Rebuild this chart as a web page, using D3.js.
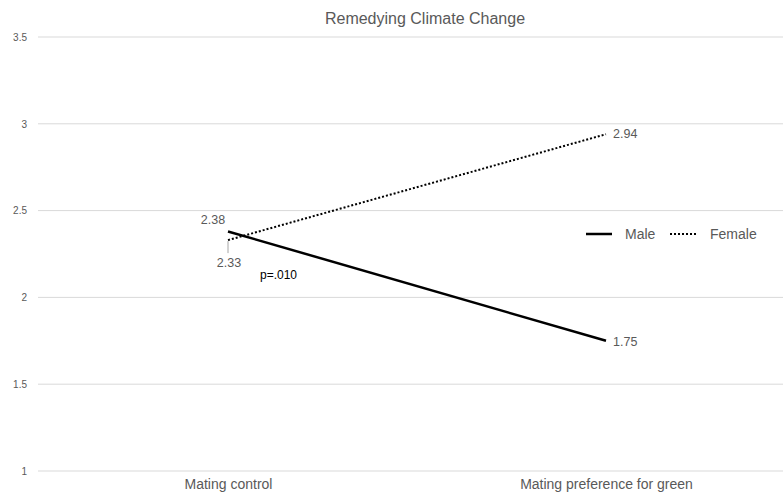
<!DOCTYPE html>
<html>
<head>
<meta charset="utf-8">
<script src="https://cdn.jsdelivr.net/npm/d3@7"></script>
<style>
  body { margin: 0; background: #fff; }
  svg { font-family: "Liberation Sans", Arial, sans-serif; }
</style>
</head>
<body>
<svg id="drawing_region"></svg>
<script>
// chart data
const categories = ["Mating control", "Mating preference for green"];
const maleValues = [2.38, 1.75];
const femaleValues = [2.33, 2.94];
const yTicks = [1, 1.5, 2, 2.5, 3, 3.5];
const seriesNames = ["Male", "Female"];
const title = "Remedying Climate Change";
const pNote = "p=.010";

const width = 783, height = 499;
const svg = d3.select('#drawing_region')
    .attr('width', width)
    .attr('height', height);

const xscale = d3.scalePoint()
    .domain(categories)
    .range([39, 795])
    .padding(0.5);

const yscale = d3.scaleLinear()
    .domain([1, 3.5])
    .range([471, 37]);

// gridlines
svg.append('g')
    .selectAll('line')
    .data(yTicks)
    .join('line')
    .attr('x1', 38)
    .attr('x2', 783)
    .attr('y1', d => yscale(d))
    .attr('y2', d => yscale(d))
    .attr('stroke', '#d9d9d9')
    .attr('stroke-width', 1);

// y axis labels
const yaxis = d3.axisLeft(yscale)
    .tickValues(yTicks)
    .tickFormat(d => d)
    .tickSize(0)
    .tickPadding(0);
const yg = svg.append('g')
    .attr('transform', 'translate(27,0)')
    .call(yaxis);
yg.select('.domain').remove();
yg.selectAll('text')
    .attr('fill', '#595959')
    .attr('font-size', 10)
    .attr('font-family', '"Liberation Sans", Arial, sans-serif');

// x axis labels
const xaxis = d3.axisBottom(xscale).tickSize(0).tickPadding(0);
const xg = svg.append('g')
    .attr('transform', 'translate(0,479)')
    .call(xaxis);
xg.select('.domain').remove();
xg.selectAll('text')
    .attr('fill', '#595959')
    .attr('font-size', 14)
    .attr('font-family', '"Liberation Sans", Arial, sans-serif');

// title
svg.append('text')
    .attr('x', 425)
    .attr('y', 24)
    .attr('text-anchor', 'middle')
    .attr('fill', '#595959')
    .attr('font-size', 16)
    .text(title);

const line = d3.line()
    .x((d, i) => xscale(categories[i]))
    .y(d => yscale(d));

// female (dotted)
svg.append('path')
    .attr('d', line(femaleValues))
    .attr('fill', 'none')
    .attr('stroke', '#000')
    .attr('stroke-width', 2)
    .attr('stroke-dasharray', '2,2');

// male (solid)
svg.append('path')
    .attr('d', line(maleValues))
    .attr('fill', 'none')
    .attr('stroke', '#000')
    .attr('stroke-width', 2.5);

// value labels
const labelStyle = sel => sel
    .attr('fill', '#595959')
    .attr('font-size', 12.5);

svg.append('text')
    .attr('x', xscale(categories[0]) - 15)
    .attr('y', yscale(maleValues[0]) - 7)
    .attr('text-anchor', 'middle')
    .call(labelStyle)
    .text(maleValues[0].toFixed(2));

svg.append('line')
    .attr('x1', xscale(categories[0]))
    .attr('x2', xscale(categories[0]))
    .attr('y1', yscale(femaleValues[0]) + 1)
    .attr('y2', yscale(femaleValues[0]) + 13)
    .attr('stroke', '#a6a6a6')
    .attr('stroke-width', 1);

svg.append('text')
    .attr('x', xscale(categories[0]) + 1)
    .attr('y', yscale(femaleValues[0]) + 27)
    .attr('text-anchor', 'middle')
    .call(labelStyle)
    .text(femaleValues[0].toFixed(2));

svg.append('text')
    .attr('x', xscale(categories[1]) + 7)
    .attr('y', yscale(femaleValues[1]) + 4)
    .call(labelStyle)
    .text(femaleValues[1].toFixed(2));

svg.append('text')
    .attr('x', xscale(categories[1]) + 7)
    .attr('y', yscale(maleValues[1]) + 5)
    .call(labelStyle)
    .text(maleValues[1].toFixed(2));

// p value note
svg.append('text')
    .attr('x', 260)
    .attr('y', 279)
    .attr('fill', '#000')
    .attr('font-size', 12)
    .text(pNote);

// legend
const legend = svg.append('g');
legend.append('line')
    .attr('x1', 586).attr('x2', 612)
    .attr('y1', 234).attr('y2', 234)
    .attr('stroke', '#000').attr('stroke-width', 2.5);
legend.append('text')
    .attr('x', 625).attr('y', 239)
    .attr('fill', '#595959').attr('font-size', 14)
    .text(seriesNames[0]);
legend.append('line')
    .attr('x1', 670).attr('x2', 696)
    .attr('y1', 234).attr('y2', 234)
    .attr('stroke', '#000').attr('stroke-width', 2)
    .attr('stroke-dasharray', '2,2');
legend.append('text')
    .attr('x', 710).attr('y', 239)
    .attr('fill', '#595959').attr('font-size', 14)
    .text(seriesNames[1]);
</script>
</body>
</html>
